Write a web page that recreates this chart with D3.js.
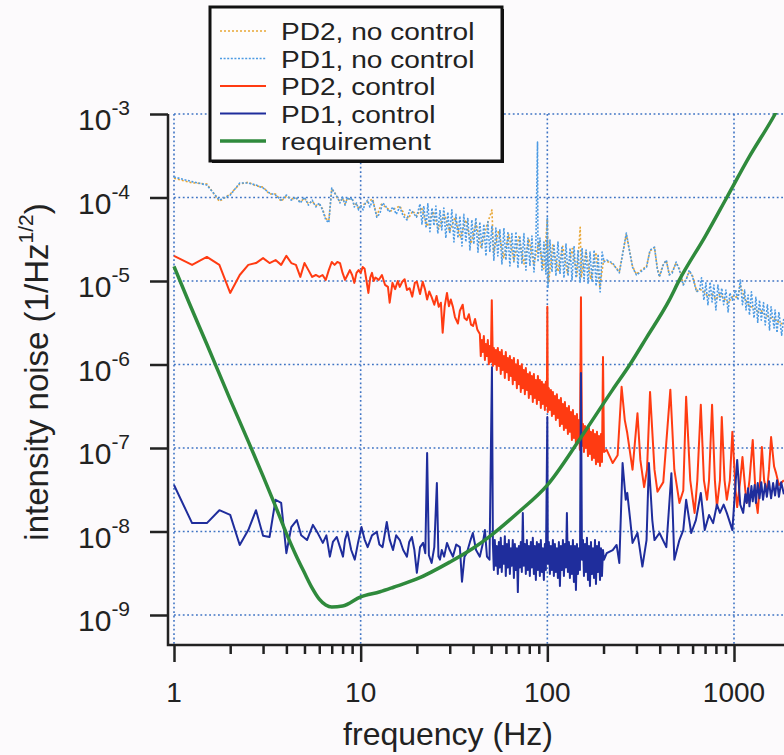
<!DOCTYPE html>
<html>
<head>
<meta charset="utf-8">
<script src="https://cdn.jsdelivr.net/npm/d3@7"></script>
<style>
  body { margin: 0; background: #fcfafc; }
  svg { display: block; font-family: "Liberation Sans", Arial, sans-serif; }
</style>
</head>
<body>
<div id="chart"></div>
<script>
/**
 * CONSTANTS
 * */
const width = 784,
  height = 755,
  frame = { left: 168, right: 784, top: 114, bottom: 645 };

/**
 * DATA  ([frequency Hz, intensity noise 1/sqrt(Hz)])
 * */
const pd2Control = [
  [1,2.0e-5],[1.25,1.56e-5],[1.5,1.94e-5],[1.75,1.56e-5],[2,7.2e-6],[2.25,1.18e-5],[2.5,1.56e-5],[2.75,1.64e-5],
  [3,1.88e-5],[3.25,1.64e-5],[3.5,1.78e-5],[3.75,1.56e-5],[4,2.0e-5],[4.25,1.64e-5],[4.5,1.56e-5],[4.75,1.12e-5],
  [5,1.64e-5],[5.25,1.35e-5],[5.5,1.12e-5],[5.75,1.18e-5],[6,1.12e-5],[6.25,1.18e-5],[6.5,1.03e-5],[6.75,1.35e-5],
  [7,1.69e-5],[7.25,1.56e-5],[7.5,1.69e-5],[7.75,1.64e-5],[8,1.25e-5],[8.25,1.03e-5],[8.5,1.18e-5],[8.75,1.35e-5],
  [9,1.18e-5],[9.25,9.5e-6],[9.5,1.25e-5],[9.75,1.35e-5],[10,1.25e-5],[10.25,1.47e-5],[10.5,1.4e-5],[10.75,1.0e-5],
  [11,7.2e-6],[11.25,1.1e-5],[11.5,1.25e-5],[11.75,1.0e-5],[12,1.1e-5],[12.5,1.03e-5],[13,1.18e-5],[13.5,9.0e-6],
  [14,8.5e-6],[14.3,5.5e-6],[14.8,9.5e-6],[15.3,8.0e-6],[15.8,1.0e-5],[16.2,8.5e-6],[16.7,9.8e-6],[17.2,1.05e-5],
  [17.7,7.8e-6],[18.3,8.2e-6],[18.9,6.5e-6],[19.5,9.5e-6],[20,9.8e-6],[20.8,7.0e-6],[21.5,9.8e-6],[22.1,8.0e-6],
  [22.7,6.0e-6],[23.3,7.5e-6],[24,6.4e-6],[24.8,5.2e-6],[25.5,6.6e-6],[26.2,4.9e-6],[26.9,5.5e-6],[27.5,2.4e-6],
  [28.2,5.0e-6],[29,7.2e-6],[29.7,5.0e-6],[30.4,6.0e-6],[31.2,4.9e-6],[32,3.7e-6],[33.2,3.1e-6],[34,4.4e-6],
  [35.2,5.2e-6],[36,3.6e-6],[37,3.4e-6],[38,4.0e-6],[39,3.0e-6],[40,2.9e-6],[41,3.5e-6],[42.2,2.6e-6],
  [43.5,2.32e-6],[44.0,1.26e-6],[44.6,1.96e-6],[45.1,1.41e-6],[45.7,2.19e-6],[46.3,1.13e-6],[46.8,1.76e-6],[47.4,1.26e-6],
  [48.0,1.96e-6],[48.6,1.01e-6],[49.2,1.67e-6],[49.8,1.07e-6],[50.4,5.9e-6],[51.1,9.6e-7],[51.7,1.58e-6],[52.3,1.01e-6],
  [53.0,1.49e-6],[53.6,8.6e-7],[54.3,1.58e-6],[55.0,9.6e-7],[55.6,1.41e-6],[56.3,7.7e-7],[57.0,1.49e-6],[57.7,8.6e-7],
  [58.5,1.26e-6],[59.2,6.9e-7],[59.9,1.41e-6],[60.7,8.1e-7],[61.4,1.2e-6],[62.2,6.5e-7],[63.0,1.26e-6],[63.8,7.3e-7],
  [64.5,1.13e-6],[65.3,5.8e-7],[66.2,1.2e-6],[67.0,6.5e-7],[67.8,1.01e-6],[68.7,5.2e-7],[69.5,1.13e-6],[70.4,5.8e-7],
  [71.2,9.6e-7],[72.1,4.7e-7],[73.0,1.01e-6],[73.9,5.2e-7],[74.8,8.6e-7],[75.8,4.4e-7],[76.7,9.1e-7],[77.7,4.95e-7],
  [78.6,7.7e-7],[79.6,3.97e-7],[80.6,8.1e-7],[81.6,4.4e-7],[82.6,7.3e-7],[83.6,3.56e-7],[84.7,7.7e-7],[85.7,3.97e-7],
  [86.8,6.5e-7],[87.9,3.37e-7],[89.0,7.3e-7],[90.1,3.76e-7],[91.2,6.5e-7],[92.3,3.01e-7],[93.5,6.2e-7],[94.6,3.37e-7],
  [95.8,5.8e-7],[97.0,2.85e-7],[98.2,6.2e-7],[99.4,3.18e-7],[100,4.9e-6],[100.6,2.7e-7],[101.9,5.2e-7],[103.2,2.85e-7],
  [104.5,4.95e-7],[105.8,2.42e-7],[107.1,4.7e-7],[108.4,2.55e-7],[109.8,4.2e-7],[111.1,2.16e-7],[112.5,4.4e-7],[113.9,2.29e-7],
  [115.3,3.76e-7],[116.8,1.83e-7],[118.2,3.97e-7],[119.7,1.94e-7],[121.2,3.37e-7],[122.7,1.64e-7],[124.2,3.56e-7],[125.8,1.74e-7],
  [127.3,3.01e-7],[128.9,1.47e-7],[130.5,3.18e-7],[132.1,1.56e-7],[133.8,2.7e-7],[135.4,1.25e-7],[137.1,2.85e-7],[138.8,1.32e-7],
  [140.6,2.42e-7],[142.3,1.12e-7],[144.1,2.55e-7],[145.9,1.18e-7],[147.7,2.16e-7],[149.5,9.5e-8],[151.4,6.4e-6],[153.3,1.06e-7],
  [155.2,1.94e-7],[157.1,8.95e-8],[159.1,1.83e-7],[161.0,1.0e-7],[163.0,1.64e-7],[165.1,8.0e-8],[167.1,1.74e-7],[169.2,8.5e-8],
  [171.3,1.56e-7],[173.4,7.2e-8],[175.6,1.64e-7],[177.8,7.6e-8],[180.0,1.47e-7],[182.2,6.4e-8],[184.5,1.56e-7],[186.8,6.8e-8],
  [189.1,1.39e-7],[191.5,6.1e-8],[193.8,1.47e-7],[196.2,6.8e-8],[198.7,1.23e-6],[201.2,8.95e-8],
  [208,9.5e-8],[224,6.6e-8],[238,8.2e-8],[250,5.4e-7],[260,2.16e-7],[268,1.51e-7],
  [286,5.5e-8],[304,2.6e-7],[315,7.2e-8],[330,3.4e-8],[342,5.5e-8],[355,4.7e-7],[375,5.5e-8],[389,3.0e-8],
  [418,3.9e-8],[456,5.0e-7],[479,5.5e-8],[510,2.2e-8],[535,3.1e-8],[554,4.1e-7],[583,4.1e-8],[615,1.67e-8],
  [636,4.1e-8],[664,3.3e-7],[690,4.1e-8],[717,2.4e-8],[735,4.1e-8],[763,3.3e-7],[790,4.1e-8],[810,1.96e-8],
  [841,4.1e-8],[860,2.35e-7],[890,4.1e-8],[915,2.4e-8],[950,4.1e-8],[980,1.56e-7],[1020,3.1e-8],[1040,1.96e-8],
  [1080,4.1e-8],[1110,7.8e-8],[1150,3.1e-8],[1170,2.2e-8],[1210,4.1e-8],[1260,1.25e-7],[1310,2.4e-8],[1340,1.67e-8],
  [1380,4.1e-8],[1410,1.03e-7],[1450,4.1e-8],[1500,2.9e-8],[1540,5.5e-8],[1580,1.35e-7],[1640,6.0e-8],[1680,5.0e-8],
  [1740,3.6e-8],[1850,4.1e-8]
];

const pd1Control = [
  [1,3.6e-8],[1.25,1.26e-8],[1.5,1.26e-8],[1.75,1.8e-8],[2,1.58e-8],[2.25,6.9e-9],[2.5,1.04e-8],[2.75,1.8e-8],
  [3,8.9e-9],[3.25,8.6e-9],[3.5,2.4e-8],[3.75,2.2e-8],[4,5.5e-9],[4.25,1.13e-8],[4.55,1.37e-8],[4.8,9.0e-9],
  [5.16,7.9e-9],[5.55,1.2e-8],[5.9,9.5e-9],[6.27,7.3e-9],[6.55,9.0e-9],[6.84,5.0e-9],[7.1,7.5e-9],[7.45,8.6e-9],
  [7.75,6.5e-9],[8.04,5.0e-9],[8.25,8.0e-9],[8.5,9.9e-9],[8.9,6.0e-9],[9.3,4.6e-9],[9.7,7.5e-9],[10.1,1.13e-8],
  [10.5,8.0e-9],[10.9,6.5e-9],[11.5,9.0e-9],[12.2,9.9e-9],[12.6,7.0e-9],[13.1,6.5e-9],[13.8,1.3e-8],[14.3,8.0e-9],
  [14.9,6.0e-9],[15.5,9.0e-9],[16.2,7.9e-9],[16.9,6.0e-9],[17.7,5.0e-9],[18.2,7.5e-9],[18.8,8.6e-9],[19.4,6.0e-9],
  [20,3.2e-9],[20.8,6.5e-9],[21.6,7.3e-9],[22.2,5.5e-9],[22.7,8.7e-8],[23.2,5.2e-9],[24,4.2e-9],[24.8,6.5e-9],
  [25.6,3.8e-8],[26.1,5.0e-9],[26.6,4.6e-9],[27.2,6.0e-9],[28,5.0e-9],[29,7.3e-9],[30,6.0e-9],[31.2,5.0e-9],
  [32.5,7.0e-9],[34,6.5e-9],[34.9,2.5e-9],[36,5.0e-9],[37,5.5e-9],[38.5,7.5e-9],[39.9,9.6e-9],[41.5,6.0e-9],
  [43.5,5.0e-9],[45,7.0e-9],[46.3,1.04e-8],[47.5,5.0e-9],[49,4.6e-9],[50.5,9.3e-7],
  [51.1,7.1e-9],[51.7,3.46e-9],[52.3,7.9e-9],[53.0,3.9e-9],[53.6,6.7e-9],[54.3,3.1e-9],[55.0,7.5e-9],[55.6,3.7e-9],
  [56.3,8.4e-9],[57.0,3.27e-9],[57.7,6.7e-9],[58.5,4.1e-9],[59.2,8.8e-9],[59.9,2.93e-9],[60.7,7.1e-9],[61.4,3.7e-9],
  [62.2,7.9e-9],[63.0,3.1e-9],[63.8,6.3e-9],[64.5,3.9e-9],[65.3,7.9e-9],[66.2,2.77e-9],[67.0,7.1e-9],[67.8,3.46e-9],
  [68.7,6.3e-9],[69.5,1.88e-9],[70.4,6.7e-9],[71.2,3.7e-9],[72.1,7.5e-9],[73.0,3.27e-9],[73.9,1.67e-8],[74.8,3.9e-9],
  [75.8,7.1e-9],[76.7,3.1e-9],[77.7,7.9e-9],[78.6,3.46e-9],[79.6,6.7e-9],[80.6,2.93e-9],[81.6,7.5e-9],[82.6,3.7e-9],
  [83.6,8.4e-9],[84.7,3.1e-9],[85.7,6.7e-9],[86.8,2.62e-9],[87.9,7.5e-9],[89.0,3.46e-9],[90.1,7.1e-9],[91.2,2.93e-9],
  [92.3,7.9e-9],[93.5,3.27e-9],[94.6,6.3e-9],[95.8,2.62e-9],[97.0,7.1e-9],[98.2,3.46e-9],[100,2.35e-7],[100.6,4.1e-9],
  [101.9,7.5e-9],[103.2,3.1e-9],[104.5,6.7e-9],[105.8,3.46e-9],[107.1,7.9e-9],[108.4,2.93e-9],[109.8,7.1e-9],[111.1,3.27e-9],
  [112.5,6.3e-9],[113.9,2.77e-9],[115.3,7.5e-9],[116.8,2.22e-9],[118.2,6.7e-9],[119.7,3.46e-9],[121.2,7.9e-9],[122.7,2.93e-9],
  [124.2,7.1e-9],[125.8,3.7e-9],[127.3,1.67e-8],[128.9,3.27e-9],[130.5,7.5e-9],[132.1,2.77e-9],[133.8,6.7e-9],[135.4,3.1e-9],
  [137.1,7.9e-9],[138.8,2.48e-9],[140.6,6.7e-9],[142.3,1.99e-9],[144.1,7.1e-9],[145.9,3.1e-9],[147.7,6.3e-9],[149.5,3.46e-9],
  [151.4,7.9e-7],[153.3,4.6e-9],[155.2,7.9e-9],[157.1,2.93e-9],[159.1,7.1e-9],[161.0,3.27e-9],[163.0,8.4e-9],[165.1,2.62e-9],
  [167.1,6.7e-9],[169.2,2.22e-9],[171.3,7.5e-9],[173.4,3.1e-9],[175.6,6.3e-9],[177.8,2.77e-9],[180.0,7.9e-9],[182.2,2.35e-9],
  [184.5,6.7e-9],[186.8,3.27e-9],[189.1,7.5e-9],[191.5,2.62e-9],[193.8,6.3e-9],[196.2,2.93e-9],[198.7,6.0e-9],[201.2,4.6e-9],
  [208,5.5e-9],[224,6.0e-9],[235,6.9e-9],[243,4.2e-9],[253,6.6e-8],[263,2.4e-8],
  [268,2.9e-8],[278,1.37e-8],[286,7.3e-9],[304,9.6e-9],[323,3.8e-9],[340,7.9e-9],[350,6.6e-8],[365,1.37e-8],
  [375,7.9e-9],[399,9.6e-9],[434,6.5e-9],[462,5.0e-8],[479,4.6e-9],[510,7.9e-9],[535,1.04e-8],[554,2.4e-8],
  [590,9.6e-9],[625,1.37e-8],[664,2.9e-8],[697,1.04e-8],[735,1.58e-8],[773,1.26e-8],[810,2.1e-8],[841,1.67e-8],
  [880,2.1e-8],[915,1.67e-8],[980,1.04e-8],[1040,7.2e-8],[1080,2.1e-8],[1120,1.67e-8],[1150,2.8e-8],[1170,2.2e-8],
  [1190,3.3e-8],[1210,2.0e-8],[1240,3.5e-8],[1260,2.3e-8],[1290,3.6e-8],[1310,2.2e-8],[1340,3.8e-8],[1370,2.5e-8],
  [1400,3.9e-8],[1430,2.4e-8],[1470,3.7e-8],[1500,2.6e-8],[1540,4.0e-8],[1580,2.5e-8],[1620,3.8e-8],[1660,2.7e-8],
  [1700,4.1e-8],[1740,2.6e-8],[1790,3.9e-8],[1850,2.8e-8]
];

const pd1NoControl = [
  [1,1.76e-4],[1.25,1.55e-4],[1.5,1.41e-4],[1.75,9.3e-5],[2,1.07e-4],[2.25,1.49e-4],[2.5,1.49e-4],[2.75,1.41e-4],
  [3,1.3e-4],[3.25,1.13e-4],[3.5,1.07e-4],[3.75,9.3e-5],[4,1.07e-4],[4.25,9.3e-5],[4.5,1.01e-4],[4.75,8.6e-5],
  [5,1.01e-4],[5.25,8.1e-5],[5.5,9.3e-5],[5.75,7.7e-5],[6,8.6e-5],[6.25,7.1e-5],[6.5,5.4e-5],[6.75,5.0e-5],
  [7,1.3e-4],[7.25,1.13e-4],[7.5,1.01e-4],[7.75,8.6e-5],[8,1.01e-4],[8.25,8.1e-5],[8.5,1.01e-4],[8.75,9.3e-5],
  [9,9.9e-5],[9.25,7.7e-5],[9.5,8.6e-5],[9.75,7.1e-5],[10,8.1e-5],[10.3,7.1e-5],[10.6,8.6e-5],[10.9,9.3e-5],
  [11.2,7.7e-5],[11.6,9.3e-5],[12.2,5.8e-5],[12.7,6.5e-5],[13.1,8.6e-5],[13.5,8.1e-5],[14.2,6.7e-5],[14.9,7.7e-5],
  [15.5,6.3e-5],[16.2,7.7e-5],[16.9,6.0e-5],[17.7,5.4e-5],[18.3,7.1e-5],[19,6.7e-5],[19.9,5.8e-5],
  [20.8,8.4e-5],[21.3,4.8e-5],[21.8,7.9e-5],[22.4,4.3e-5],[22.9,8.4e-5],[23.5,3.9e-5],[24.1,7.5e-5],[24.7,4.6e-5],
  [25.3,7.9e-5],[25.9,3.7e-5],[26.6,7.1e-5],[27.2,4.1e-5],[27.9,7.5e-5],[28.6,3.27e-5],[29.3,6.7e-5],[30.0,3.7e-5],
  [30.8,7.1e-5],[31.6,2.93e-5],[32.4,6.3e-5],[33.2,3.27e-5],[34.0,6.0e-5],[34.9,2.62e-5],[35.7,6.3e-5],[36.6,2.93e-5],
  [37.5,5.7e-5],[38.5,2.35e-5],[39.4,5.4e-5],[40.4,2.77e-5],[41.4,5.7e-5],[42.5,2.22e-5],[43.5,5.1e-5],[44.6,2.48e-5],
  [45.7,4.8e-5],[46.9,1.99e-5],[48.0,5.1e-5],[49.2,2.22e-5],[50.5,4.6e-5],[51.7,1.78e-5],[53.0,4.3e-5],[54.3,1.99e-5],
  [55.7,4.1e-5],[57.1,1.6e-5],[58.5,4.3e-5],[60.0,1.78e-5],[61.5,3.9e-5],[63.0,1.51e-5],[64.6,3.7e-5],[66.2,1.69e-5],
  [67.9,3.9e-5],[69.6,1.43e-5],[71.3,3.46e-5],[73.1,1.6e-5],[74.9,3.7e-5],[76.8,1.35e-5],[78.7,3.27e-5],[80.7,1.51e-5],
  [82.7,3.46e-5],[84.8,1.28e-5],[86.9,3.1e-5],[88.6,4.6e-4],[89.1,1.69e-5],[91.3,3.27e-5],[93.6,1.35e-5],[95.9,2.93e-5],
  [98.3,1.21e-5],[100,5.8e-5],[100.8,8.2e-6],[103.3,3.1e-5],[105.9,1.28e-5],[108.5,2.77e-5],[111.2,1.15e-5],[114.0,2.93e-5],
  [116.9,1.21e-5],[119.8,2.62e-5],[122.8,1.09e-5],[125.9,2.77e-5],[129.1,1.15e-5],[132.3,2.48e-5],[135.6,1.03e-5],[139.0,2.62e-5],
  [142.5,1.09e-5],[146.1,2.35e-5],[149.7,9.7e-6],[153.5,2.48e-5],[157.3,1.03e-5],[161.3,2.35e-5],[165.3,9.2e-6],[169.4,2.22e-5],
  [173.7,9.7e-6],[178.0,2.35e-5],[182.5,8.7e-6],[187.1,2.1e-5],[191.8,7.4e-6],[196.6,2.22e-5],[201.5,1.69e-5],
  [208,1.78e-5],[224,1.64e-5],[243,1.25e-5],[265,3.76e-5],[278,2.05e-5],[286,1.47e-5],[300,1.18e-5],
  [311,1.25e-5],[340,1.47e-5],[355,2.35e-5],[375,2.55e-5],[389,1.35e-5],[399,1.12e-5],[418,1.56e-5],[434,1.78e-5],
  [450,1.18e-5],[467,1.25e-5],[490,1.69e-5],[510,1.35e-5],[535,8.95e-6],[554,1.03e-5],[576,1.35e-5],[600,1.12e-5],
  [630,7.4e-6],[654,7.8e-6],[670,1.09e-5],[690,5.9e-6],[707,9.5e-6],[725,5.2e-6],[745,9.7e-6],[763,5.6e-6],
  [780,8.95e-6],[800,4.5e-6],[820,8.95e-6],[841,5.9e-6],[860,8.2e-6],[880,5.2e-6],[905,7.8e-6],[930,4.25e-6],
  [950,7.2e-6],[980,5.9e-6],[1020,7.8e-6],[1050,5.9e-6],[1080,1.03e-5],[1110,5.2e-6],[1140,7.8e-6],[1160,4.5e-6],
  [1190,6.8e-6],[1210,3.9e-6],[1240,7.4e-6],[1280,3.6e-6],[1310,6.4e-6],[1340,3.2e-6],[1370,5.9e-6],[1400,3.4e-6],
  [1440,5.5e-6],[1470,2.97e-6],[1510,5.2e-6],[1550,2.6e-6],[1580,4.9e-6],[1640,2.73e-6],[1660,4.5e-6],[1700,2.4e-6],
  [1740,4.25e-6],[1800,2.25e-6],[1850,3.6e-6]
];

const pd2NoControl = [
  [1,1.7e-4],[1.25,1.5e-4],[1.5,1.45e-4],[1.75,9.0e-5],[2,1.1e-4],[2.25,1.45e-4],[2.5,1.52e-4],[2.75,1.38e-4],
  [3,1.33e-4],[3.25,1.1e-4],[3.5,1.1e-4],[3.75,9.0e-5],[4,1.04e-4],[4.25,9.6e-5],[4.5,9.8e-5],[4.75,8.9e-5],
  [5,9.8e-5],[5.25,8.4e-5],[5.5,9.0e-5],[5.75,8.0e-5],[6,8.3e-5],[6.25,7.3e-5],[6.5,5.6e-5],[6.75,5.3e-5],
  [7,1.26e-4],[7.25,1.16e-4],[7.5,9.8e-5],[7.75,8.9e-5],[8,9.8e-5],[8.25,8.4e-5],[8.5,9.8e-5],[8.75,9.6e-5],
  [9,9.6e-5],[9.25,8.0e-5],[9.5,8.3e-5],[9.75,7.4e-5],[10,7.8e-5],[10.5,8.4e-5],[11,9.0e-5],[11.6,9.6e-5],
  [12.2,6.0e-5],[12.9,8.3e-5],[13.5,7.8e-5],[14.5,6.9e-5],[15.3,7.4e-5],[16.2,7.9e-5],[17.2,6.2e-5],[18,5.6e-5],
  [19,6.9e-5],[20,6.0e-5],[21.2,7.6e-5],[22.7,4.5e-5],[24.4,6.8e-5],[26.2,4.2e-5],[28,6.3e-5],[30,3.9e-5],
  [32,5.8e-5],[34.2,3.3e-5],[36.5,5.4e-5],[39,2.8e-5],[41.5,5.0e-5],[44.2,2.5e-5],[47.2,4.5e-5],[50.5,7.1e-5],
  [51.5,2.2e-5],[54.8,4.0e-5],[58.4,1.9e-5],[62.2,3.6e-5],[66.2,1.75e-5],[70.4,3.4e-5],[75,1.6e-5],[79.6,3.2e-5],
  [84.6,1.6e-5],[90,2.9e-5],[95.6,1.4e-5],[100,5.5e-5],[101.5,9.5e-6],[107,2.7e-5],[114,1.3e-5],[121,2.6e-5],
  [128,1.25e-5],[136,2.45e-5],[144,1.15e-5],[150,4.4e-5],[152,1.1e-5],[161,2.3e-5],[171,1.05e-5],[182,2.2e-5],
  [191,8.5e-6],[200,1.75e-5],[208,1.72e-5],[224,1.6e-5],[243,1.3e-5],[265,3.6e-5],[278,2.1e-5],[286,1.5e-5],
  [300,1.2e-5],[311,1.3e-5],[340,1.5e-5],[355,2.3e-5],[375,2.5e-5],[389,1.4e-5],[399,1.15e-5],[418,1.6e-5],
  [434,1.75e-5],[450,1.2e-5],[467,1.3e-5],[490,1.65e-5],[510,1.4e-5],[535,9.2e-6],[554,1.05e-5],[576,1.3e-5],
  [600,1.15e-5],[630,7.6e-6],[654,8.0e-6],[690,7.5e-6],[725,6.5e-6],[763,7.0e-6],[800,6.0e-6],[841,7.0e-6],
  [880,6.2e-6],[930,5.5e-6],[980,6.5e-6],[1050,6.4e-6],[1080,9.0e-6],[1140,6.2e-6],[1210,5.0e-6],[1280,4.8e-6],
  [1340,4.3e-6],[1400,4.4e-6],[1470,3.9e-6],[1550,3.7e-6],[1640,3.5e-6],[1740,3.2e-6],[1850,3.0e-6]
];

const requirement = [
  [1,1.5e-5],[1.2,5.6e-6],[1.5,1.75e-6],[2,3.8e-7],[2.5,1.2e-7],[3,4.6e-8],[3.5,2.0e-8],[4,9.5e-9],
  [4.5,5.2e-9],[5,3.2e-9],[5.5,2.1e-9],[6,1.55e-9],[6.5,1.32e-9],[7,1.25e-9],[8,1.28e-9],[10,1.65e-9],
  [12.7,1.9e-9],[15,2.15e-9],[20,2.7e-9],[30,4.3e-9],[40,6.3e-9],[50,9.0e-9],[70,1.7e-8],[100,3.6e-8],
  [150,1.3e-7],[224,5.0e-7],[277,1.0e-6],[340,2.1e-6],[450,5.9e-6],[510,1.03e-5],[700,3.4e-5],[915,1.0e-4],
  [1200,3.0e-4],[1660,1.0e-3],[1800,1.4e-3]
];

const xMajor = [1, 10, 100, 1000];
const xMinor = [2,3,4,5,6,7,8,9,20,30,40,50,60,70,80,90,200,300,400,500,600,700,800,900];
const xLabels = ["1", "10", "100", "1000"];
const yTicks = [1e-3, 1e-4, 1e-5, 1e-6, 1e-7, 1e-8, 1e-9];
const yExponents = ["-3", "-4", "-5", "-6", "-7", "-8", "-9"];
const legendLabels = ["PD2, no control", "PD1, no control", "PD2, control", "PD1, control", "requirement"];

/**
 * SCALES
 * */
const x = d3.scaleLog().domain([1, 1000]).range([174, 734]);
const y = d3.scaleLog().domain([1e-9, 1e-3]).range([615, 114]);

const styles = [
  { data: pd2NoControl, color: "#e8a634", width: 1.6, dash: "2,2" },
  { data: pd1NoControl, color: "#4d9be3", width: 1.6, dash: "2,1.6" },
  { data: pd2Control, color: "#ff3b12", width: 2, dash: null },
  { data: pd1Control, color: "#1f2d9c", width: 2, dash: null },
  { data: requirement, color: "#2f8a3c", width: 3.5, dash: null, smooth: true }
];

const svg = d3.select("#chart")
  .append("svg")
  .attr("width", width)
  .attr("height", height);

svg.append("defs").append("clipPath")
  .attr("id", "plot-clip")
  .append("rect")
  .attr("x", frame.left)
  .attr("y", frame.top - 1)
  .attr("width", frame.right - frame.left)
  .attr("height", frame.bottom - frame.top + 1);

// grid lines, dotted blue
const grid = svg.append("g")
  .attr("stroke", "#3f74c4")
  .attr("stroke-width", 1.6)
  .attr("stroke-dasharray", "1.8,2.6");

grid.selectAll("line.h")
  .data(yTicks)
  .join("line")
  .attr("class", "h")
  .attr("x1", x(1))
  .attr("x2", frame.right)
  .attr("y1", d => y(d))
  .attr("y2", d => y(d));

grid.selectAll("line.v")
  .data(xMajor)
  .join("line")
  .attr("class", "v")
  .attr("x1", d => x(d))
  .attr("x2", d => x(d))
  .attr("y1", frame.top)
  .attr("y2", frame.bottom);

// series
const line = d3.line().x(d => x(d[0])).y(d => y(d[1]));
const smoothLine = d3.line().x(d => x(d[0])).y(d => y(d[1])).curve(d3.curveMonotoneX);

svg.append("g")
  .attr("clip-path", "url(#plot-clip)")
  .selectAll("path")
  .data(styles)
  .join("path")
  .attr("fill", "none")
  .attr("stroke", d => d.color)
  .attr("stroke-width", d => d.width)
  .attr("stroke-dasharray", d => d.dash)
  .attr("stroke-linejoin", "round")
  .attr("d", d => d.smooth ? smoothLine(d.data) : line(d.data));

// axes frame
svg.append("path")
  .attr("d", `M${frame.left},${frame.top}V${frame.bottom}H${frame.right}`)
  .attr("fill", "none")
  .attr("stroke", "#222")
  .attr("stroke-width", 2.5);

svg.append("g")
  .attr("transform", `translate(${frame.left},0)`)
  .call(d3.axisLeft(y).tickValues(yTicks).tickSize(18).tickFormat(""))
  .call(g => g.select(".domain").remove())
  .call(g => g.selectAll(".tick line").attr("stroke", "#222").attr("stroke-width", 2.5));

svg.append("g")
  .attr("transform", `translate(0,${frame.bottom})`)
  .call(d3.axisBottom(x).tickValues(xMajor).tickSize(17).tickFormat(""))
  .call(g => g.select(".domain").remove())
  .call(g => g.selectAll(".tick line").attr("stroke", "#222").attr("stroke-width", 2.5));

svg.append("g")
  .attr("transform", `translate(0,${frame.bottom})`)
  .call(d3.axisBottom(x).tickValues(xMinor).tickSize(9).tickFormat(""))
  .call(g => g.select(".domain").remove())
  .call(g => g.selectAll(".tick line").attr("stroke", "#222").attr("stroke-width", 2.5));

// tick labels
svg.selectAll("text.xlab")
  .data(xMajor)
  .join("text")
  .attr("class", "xlab")
  .attr("x", d => x(d))
  .attr("y", 702)
  .attr("text-anchor", "middle")
  .attr("font-size", 28)
  .attr("fill", "#222")
  .text((d, i) => xLabels[i]);

svg.selectAll("text.ylab")
  .data(yTicks)
  .join("text")
  .attr("class", "ylab")
  .attr("x", 78)
  .attr("y", d => y(d) + 16)
  .attr("font-size", 30)
  .attr("fill", "#222")
  .each(function(d, i) {
    const t = d3.select(this);
    t.append("tspan").text("10");
    t.append("tspan").attr("dy", -15).attr("font-size", 21).text(yExponents[i]);
  });

// axis titles
svg.append("text")
  .attr("x", 448)
  .attr("y", 745)
  .attr("text-anchor", "middle")
  .attr("font-size", 32)
  .attr("fill", "#222")
  .text("frequency (Hz)");

const yTitle = svg.append("text")
  .attr("transform", "translate(48,372) rotate(-90)")
  .attr("text-anchor", "middle")
  .attr("font-size", 33)
  .attr("fill", "#222");
yTitle.append("tspan").text("intensity noise (1/Hz");
yTitle.append("tspan").attr("dy", -15).attr("font-size", 21).text("1/2");
yTitle.append("tspan").attr("dy", 15).text(")");

// legend
const legend = svg.append("g");
legend.append("rect")
  .attr("x", 212).attr("y", 9).attr("width", 292).attr("height", 154)
  .attr("fill", "#111");
legend.append("rect")
  .attr("x", 210).attr("y", 7).attr("width", 292).attr("height", 154)
  .attr("fill", "#fdfcfd")
  .attr("stroke", "#111")
  .attr("stroke-width", 3);

const rows = legend.selectAll("g.row")
  .data(styles)
  .join("g")
  .attr("class", "row")
  .attr("transform", (d, i) => `translate(0,${31 + i * 27.5})`);

rows.append("line")
  .attr("x1", 220).attr("x2", 266)
  .attr("stroke", d => d.color)
  .attr("stroke-width", d => d.width)
  .attr("stroke-dasharray", d => d.dash);

rows.append("text")
  .attr("transform", "translate(281,9) scale(1.17,1)")
  .attr("font-size", 24)
  .attr("fill", "#222")
  .text((d, i) => legendLabels[i]);
</script>
</body>
</html>
